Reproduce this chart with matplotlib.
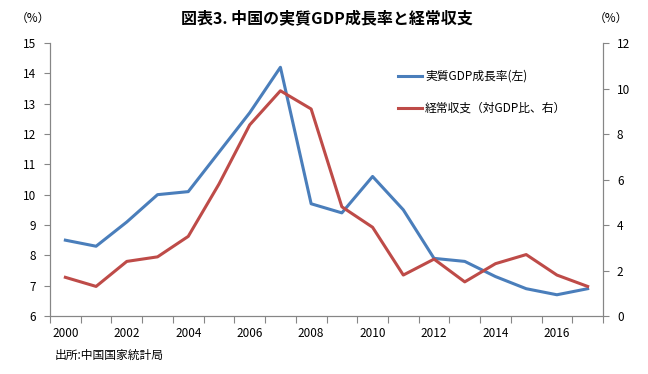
import matplotlib
matplotlib.use("Agg")
import matplotlib.pyplot as plt
from matplotlib.ticker import FixedLocator

plt.rcParams['font.family'] = ['Noto Sans CJK JP', 'DejaVu Sans']

years = list(range(2000, 2018))
gdp_growth = [8.5, 8.3, 9.1, 10.0, 10.1, 11.4, 12.7, 14.2, 9.7, 9.4,
              10.6, 9.5, 7.9, 7.8, 7.3, 6.9, 6.7, 6.9]
current_account = [1.7, 1.3, 2.4, 2.6, 3.5, 5.8, 8.4, 9.9, 9.1, 4.8,
                   3.9, 1.8, 2.5, 1.5, 2.3, 2.7, 1.8, 1.3]

blue = "#4A7EBB"
red = "#BE4B48"
axis_gray = "#868686"

fig = plt.figure(figsize=(6.48, 3.74), dpi=100)
ax = fig.add_axes([50 / 648, 1 - 316 / 374, 553 / 648, 273 / 374])
ax2 = ax.twinx()

x = list(range(len(years)))
l1, = ax.plot(x, gdp_growth, color=blue, lw=2.2, label="実質GDP成長率(左)")
l2, = ax2.plot(x, current_account, color=red, lw=2.2, label="経常収支（対GDP比、右）")

ax.set_xlim(-0.5, len(years) - 0.5)
ax.set_ylim(6, 15)
ax.set_yticks(range(6, 16))
ax2.set_ylim(0, 12)
ax2.set_yticks(range(0, 13, 2))

# category axis: tick marks on boundaries, labels on every other year
ax.xaxis.set_major_locator(FixedLocator([i - 0.5 for i in range(len(years) + 1)]))
ax.xaxis.set_major_formatter(plt.NullFormatter())
ax.xaxis.set_minor_locator(FixedLocator(x[::2]))
ax.set_xticklabels([str(y) for y in years[::2]], minor=True)
ax.tick_params(axis='x', which='major', length=5, color=axis_gray, direction='out')
ax.tick_params(axis='x', which='minor', length=0, pad=8, labelsize=8.5)

for a in (ax, ax2):
    a.spines['top'].set_visible(False)
    for s in ('left', 'right', 'bottom'):
        a.spines[s].set_color(axis_gray)
    a.tick_params(axis='y', length=4, color=axis_gray, labelsize=8.5, pad=6)

ax.set_title("図表3. 中国の実質GDP成長率と経常収支", fontsize=11.5, fontweight='bold', pad=14)

fig.text(16 / 648, 1 - 18 / 374, "（%）", fontsize=8.5, va='center')
fig.text(594 / 648, 1 - 18 / 374, "（%）", fontsize=8.5, va='center')
fig.text(55 / 648, 1 - 355 / 374, "出所:中国国家統計局", fontsize=8.5, va='center')

ax.legend(handles=[l1, l2], loc='upper left', bbox_to_anchor=(0.61, 0.94),
          frameon=False, fontsize=8.5, handlelength=2.0, labelspacing=1.6,
          handletextpad=0.3)

fig.savefig("out.png", dpi=100)
